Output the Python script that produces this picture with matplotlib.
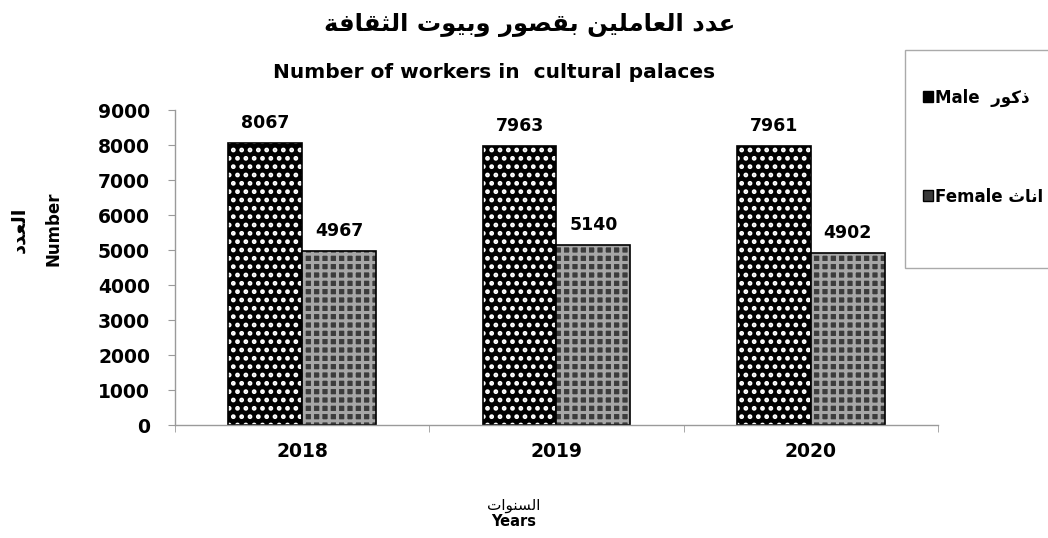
import matplotlib
matplotlib.use("Agg")
import matplotlib.pyplot as plt
from matplotlib.patches import Patch, Rectangle
import numpy as np

plt.rcParams["font.family"] = ["DejaVu Sans"]
plt.rcParams["hatch.linewidth"] = 2.2

years = ["2018", "2019", "2020"]
male = [8067, 7963, 7961]
female = [4967, 5140, 4902]

title_ar = "عدد العاملين بقصور وبيوت الثقافة"
title_en = "Number of workers in  cultural palaces"
ylabel_ar = "العدد"
xlabel_ar = "السنوات"
male_ar = "ذكور"
female_ar = "اناث"

# arabic presentation forms: isolated, final, initial, medial
FORMS = {
    "ا": (0xFE8D, 0xFE8E, None, None),
    "ب": (0xFE8F, 0xFE90, 0xFE91, 0xFE92),
    "ة": (0xFE93, 0xFE94, None, None),
    "ت": (0xFE95, 0xFE96, 0xFE97, 0xFE98),
    "ث": (0xFE99, 0xFE9A, 0xFE9B, 0xFE9C),
    "د": (0xFEA9, 0xFEAA, None, None),
    "ذ": (0xFEAB, 0xFEAC, None, None),
    "ر": (0xFEAD, 0xFEAE, None, None),
    "س": (0xFEB1, 0xFEB2, 0xFEB3, 0xFEB4),
    "ص": (0xFEB9, 0xFEBA, 0xFEBB, 0xFEBC),
    "ع": (0xFEC9, 0xFECA, 0xFECB, 0xFECC),
    "ف": (0xFED1, 0xFED2, 0xFED3, 0xFED4),
    "ق": (0xFED5, 0xFED6, 0xFED7, 0xFED8),
    "ك": (0xFED9, 0xFEDA, 0xFEDB, 0xFEDC),
    "ل": (0xFEDD, 0xFEDE, 0xFEDF, 0xFEE0),
    "م": (0xFEE1, 0xFEE2, 0xFEE3, 0xFEE4),
    "ن": (0xFEE5, 0xFEE6, 0xFEE7, 0xFEE8),
    "و": (0xFEED, 0xFEEE, None, None),
    "ي": (0xFEF1, 0xFEF2, 0xFEF3, 0xFEF4),
}


def joins_next(c):
    return c in FORMS and FORMS[c][2] is not None


def shape_ar(text):
    # join letters and put them in visual (right to left) order
    out = []
    i = 0
    n = len(text)
    while i < n:
        c = text[i]
        if c not in FORMS:
            out.append(c)
            i += 1
            continue
        jp = i > 0 and joins_next(text[i - 1])
        if c == "ل" and i + 1 < n and text[i + 1] == "ا":
            out.append(chr(0xFEFC if jp else 0xFEFB))
            i += 2
            continue
        jn = joins_next(c) and i + 1 < n and text[i + 1] in FORMS
        iso, fin, ini, med = FORMS[c]
        if jp and jn:
            g = med
        elif jp:
            g = fin
        elif jn:
            g = ini
        else:
            g = iso
        out.append(chr(g))
        i += 1
    return "".join(reversed(out))


fig = plt.figure(figsize=(10.48, 5.38), dpi=100)
ax = fig.add_axes([0.167, 0.210, 0.728, 0.5855])

x = np.arange(len(years))
w = 0.29
grey = "#9a9a9a"

# male: black with white dots
ax.bar(x - w / 2, male, w, color="black", edgecolor="white", hatch="..", linewidth=0)
m_out = ax.bar(x - w / 2, male, w, fill=False, edgecolor="black", linewidth=1.2)
# female: grey maze-like texture
ax.bar(x + w / 2, female, w, color="#3c3c3c", edgecolor="#a6a6a6", hatch="++", linewidth=0)
f_out = ax.bar(x + w / 2, female, w, fill=False, edgecolor="black", linewidth=1.2)

ax.bar_label(m_out, padding=8, fontsize=12.5, fontweight="bold")
ax.bar_label(f_out, padding=8, fontsize=12.5, fontweight="bold")

ax.set_xlim(-0.5, 2.5)
ax.set_ylim(0, 9000)
ax.set_yticks(np.arange(0, 9001, 1000))
ax.set_xticks(x)
ax.set_xticklabels(years)
ax.set_xticks([-0.5, 0.5, 1.5, 2.5], minor=True)
ax.tick_params(axis="x", which="major", length=0, pad=12, labelsize=13.5)
ax.tick_params(axis="x", which="minor", length=5, color=grey, direction="out")
ax.tick_params(axis="y", length=5, color=grey, labelsize=13.5, pad=13)
for lab in ax.get_xticklabels() + ax.get_yticklabels():
    lab.set_fontweight("bold")

for s in ["top", "right"]:
    ax.spines[s].set_visible(False)
for s in ["left", "bottom"]:
    ax.spines[s].set_color(grey)
    ax.spines[s].set_linewidth(1.0)

# titles
fig.text(0.505, 0.953, shape_ar(title_ar), ha="center", va="center",
         fontsize=17.5, fontweight="bold")
fig.text(0.471, 0.866, title_en, ha="center", va="center",
         fontsize=14.5, fontweight="bold")

# axis labels
fig.text(0.018, 0.572, shape_ar(ylabel_ar), rotation=90, ha="center", va="center",
         fontsize=14, fontweight="bold")
fig.text(0.051, 0.574, "Number", rotation=90, ha="center", va="center",
         fontsize=12, fontweight="bold")
fig.text(0.490, 0.061, shape_ar(xlabel_ar), ha="center", va="center",
         fontsize=11)
fig.text(0.490, 0.031, "Years", ha="center", va="center",
         fontsize=10.5, fontweight="bold")

# legend box
fig.patches.append(Rectangle((905 / 1048, 1 - 268 / 538), 150 / 1048, 218 / 538,
                             transform=fig.transFigure, facecolor="white",
                             edgecolor="#aaaaaa", linewidth=1.0))
handles = [Patch(facecolor="black", edgecolor="black"),
           Patch(facecolor="#3a3a3a", edgecolor="black")]
labels = ["Male  " + shape_ar(male_ar), "Female " + shape_ar(female_ar)]
leg = fig.legend(handles, labels, loc="upper left",
                 bbox_to_anchor=(916 / 1048, 1 - 82 / 538), frameon=False,
                 handlelength=0.6, handleheight=0.6, handletextpad=0.15,
                 labelspacing=4.85, borderaxespad=0,
                 prop={"weight": "bold", "size": 12})

fig.savefig("out.png", dpi=100)
